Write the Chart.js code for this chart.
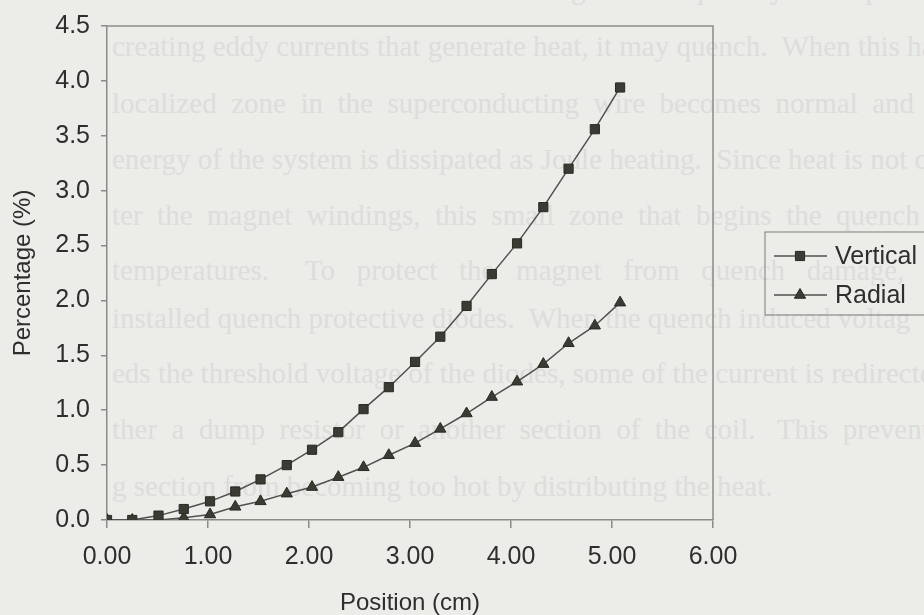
<!DOCTYPE html>
<html>
<head>
<meta charset="utf-8">
<script src="https://cdn.jsdelivr.net/npm/chart.js@4/dist/chart.umd.min.js"></script>
<style>
html, body { margin: 0; padding: 0; background: #ecece9; overflow: hidden; }
#page { position: absolute; left: 0; top: 0; width: 924px; height: 615px; overflow: hidden; }
.bleed { position: absolute; left: 112px; height: 30px; line-height: 30px;
  font: 29px "Liberation Serif", serif; color: #dddddb; white-space: pre; }
#chartBox { position: absolute; left: 0; top: 0; width: 924px; height: 615px; }
</style>
</head>
<body>
<div id="page">
  <div class="bleed" style="top:-27px">if there is an increase in current or changes in the quantity of the power supply or</div>
  <div class="bleed" style="top:30px">creating eddy currents that generate heat, it may quench.  When this has</div>
  <div class="bleed" style="top:87px">localized  zone  in  the  superconducting  wire  becomes  normal  and  the</div>
  <div class="bleed" style="top:143px">energy of the system is dissipated as Joule heating.  Since heat is not con</div>
  <div class="bleed" style="top:199px">ter  the  magnet  windings,  this  small  zone  that  begins  the  quench  c</div>
  <div class="bleed" style="top:254px">temperatures.     To   protect   the   magnet   from   quench   damage,   A</div>
  <div class="bleed" style="top:302px">installed quench protective diodes.  When the quench induced voltag</div>
  <div class="bleed" style="top:357px">eds the threshold voltage of the diodes, some of the current is redirected</div>
  <div class="bleed" style="top:413px">ther  a  dump  resistor  or  another  section  of  the  coil.   This  prevents  th</div>
  <div class="bleed" style="top:470px">g section from becoming too hot by distributing the heat.</div>
</div>
<div id="chartBox"><canvas id="quenchChart" width="924" height="615"></canvas></div>
<script>
// position along the coil (cm)
var positions = [0.00, 0.25, 0.51, 0.76, 1.02, 1.27, 1.52, 1.78, 2.03, 2.29, 2.54,
                 2.79, 3.05, 3.30, 3.56, 3.81, 4.06, 4.32, 4.57, 4.83, 5.08];
var vertical = [0.00, 0.00, 0.04, 0.10, 0.17, 0.26, 0.37, 0.50, 0.64, 0.80, 1.01,
                1.21, 1.44, 1.67, 1.95, 2.24, 2.52, 2.85, 3.20, 3.56, 3.94];
var radial = [0.00, 0.00, 0.00, 0.02, 0.05, 0.12, 0.17, 0.24, 0.30, 0.39, 0.48,
              0.59, 0.70, 0.83, 0.97, 1.12, 1.26, 1.42, 1.61, 1.77, 1.98];
var seriesNames = ['Vertical', 'Radial'];
var xTicks = [0, 1, 2, 3, 4, 5, 6];
var yTicks = [0, 0.5, 1, 1.5, 2, 2.5, 3, 3.5, 4, 4.5];

var axisColor = '#8a8a88';
var textColor = '#2e2e2e';
var markColor = '#3b3b33';
var lineColor = '#505050';
var font = 'Liberation Sans, Arial, sans-serif';

function toPoints(xs, ys) {
  return xs.map(function(x, i) { return {x: x, y: ys[i]}; });
}

var frame = {
  id: 'frame',
  afterDraw: function(chart) {
    var a = chart.chartArea, ctx = chart.ctx;
    ctx.save();
    ctx.strokeStyle = axisColor;
    ctx.lineWidth = 1.5;
    ctx.beginPath();
    ctx.moveTo(a.left, a.top);
    ctx.lineTo(a.right, a.top);
    ctx.lineTo(a.right, a.bottom);
    ctx.stroke();
    ctx.restore();
  }
};

// legend with line + marker, boxed, to the right of the plot
var boxedLegend = {
  id: 'boxedLegend',
  afterDraw: function(chart) {
    var a = chart.chartArea, ctx = chart.ctx;
    var left = a.right + 52, top = (a.top + a.bottom) / 2 - 41;
    ctx.save();
    ctx.strokeStyle = '#7a7a78';
    ctx.lineWidth = 1;
    ctx.strokeRect(left, top, 200, 83);
    chart.data.datasets.forEach(function(ds, i) {
      var y = top + 24 + i * 39;
      ctx.strokeStyle = lineColor;
      ctx.lineWidth = 1.5;
      ctx.beginPath();
      ctx.moveTo(left + 9, y);
      ctx.lineTo(left + 62, y);
      ctx.stroke();
      ctx.fillStyle = markColor;
      ctx.strokeStyle = '#2a2a25';
      ctx.lineWidth = 1;
      Chart.helpers.drawPoint(ctx, {pointStyle: ds.pointStyle, radius: ds.pointRadius, rotation: 0, borderWidth: 1}, left + 35, y);
      ctx.fillStyle = textColor;
      ctx.font = '25px ' + font;
      ctx.textBaseline = 'middle';
      ctx.textAlign = 'left';
      ctx.fillText(ds.label, left + 70, y + 1);
    });
    ctx.restore();
  }
};

new Chart(document.getElementById('quenchChart'), {
  type: 'scatter',
  data: {
    datasets: [
      {
        label: seriesNames[0],
        data: toPoints(positions, vertical),
        showLine: true,
        borderColor: lineColor,
        borderWidth: 1.5,
        pointStyle: 'rect',
        pointRadius: 6.5,
        pointBackgroundColor: markColor,
        pointBorderColor: '#2a2a25',
        pointBorderWidth: 1
      },
      {
        label: seriesNames[1],
        data: toPoints(positions, radial),
        showLine: true,
        borderColor: lineColor,
        borderWidth: 1.5,
        pointStyle: 'triangle',
        pointRadius: 6.5,
        pointBackgroundColor: markColor,
        pointBorderColor: '#2a2a25',
        pointBorderWidth: 1
      }
    ]
  },
  options: {
    responsive: false,
    devicePixelRatio: 1,
    animation: false,
    layout: { padding: { left: 0, top: 25, right: 211, bottom: 0 } },
    plugins: {
      legend: { display: false },
      tooltip: { enabled: false }
    },
    scales: {
      x: {
        type: 'linear',
        min: 0,
        max: 6,
        afterBuildTicks: function(s) { s.ticks = xTicks.map(function(v) { return {value: v}; }); },
        afterFit: function(s) { s.height = 95; },
        grid: { drawOnChartArea: false, drawTicks: true, tickLength: 8, color: axisColor, lineWidth: 1.5 },
        border: { display: true, color: axisColor, width: 1.5 },
        ticks: {
          padding: 14,
          color: textColor,
          font: { family: font, size: 25 },
          callback: function(v) { return v.toFixed(2); }
        },
        title: {
          display: true,
          text: 'Position (cm)',
          color: textColor,
          font: { family: font, size: 24, lineHeight: 1 },
          padding: { top: 0, bottom: 0 }
        }
      },
      y: {
        type: 'linear',
        min: 0,
        max: 4.5,
        afterBuildTicks: function(s) { s.ticks = yTicks.map(function(v) { return {value: v}; }); },
        afterFit: function(s) { s.width = 107; },
        grid: { drawOnChartArea: false, drawTicks: true, tickLength: 6, color: axisColor, lineWidth: 1.5 },
        border: { display: true, color: axisColor, width: 1.5 },
        ticks: {
          padding: 11,
          color: textColor,
          font: { family: font, size: 25 },
          callback: function(v) { return v.toFixed(1); }
        },
        title: {
          display: true,
          text: 'Percentage (%)',
          color: textColor,
          font: { family: font, size: 24, lineHeight: 1 },
          padding: { top: 11, bottom: 0 }
        }
      }
    }
  },
  plugins: [frame, boxedLegend]
});
</script>
</body>
</html>
